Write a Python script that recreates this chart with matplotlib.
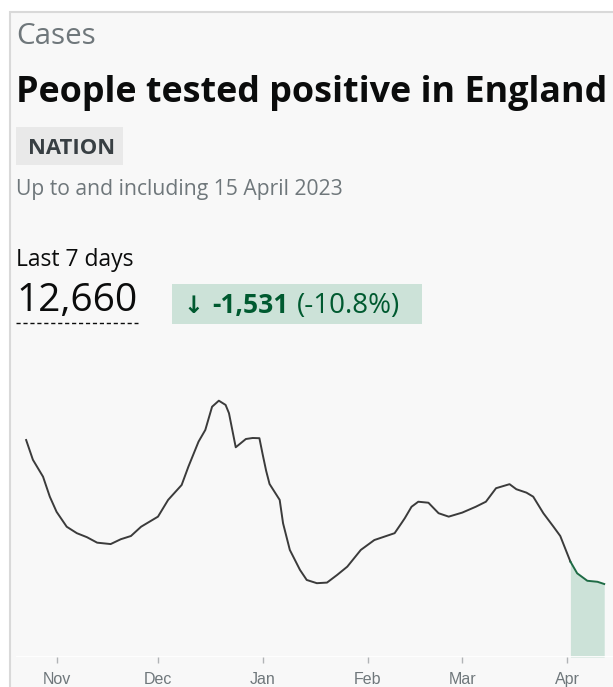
import matplotlib.pyplot as plt
import matplotlib.dates as mdates
import numpy as np
import pandas as pd
from matplotlib.patches import Rectangle
from matplotlib.lines import Line2D

# 7-day average of people testing positive
dates = ["2022-10-23", "2022-10-25", "2022-10-28", "2022-10-30", "2022-11-01",
         "2022-11-04", "2022-11-07", "2022-11-10", "2022-11-13", "2022-11-17",
         "2022-11-20", "2022-11-23", "2022-11-26", "2022-11-29", "2022-12-01",
         "2022-12-04", "2022-12-08", "2022-12-10", "2022-12-13", "2022-12-15",
         "2022-12-17", "2022-12-19", "2022-12-21", "2022-12-22", "2022-12-24",
         "2022-12-27", "2022-12-29", "2022-12-31", "2023-01-01", "2023-01-02",
         "2023-01-03", "2023-01-06", "2023-01-07", "2023-01-09", "2023-01-12",
         "2023-01-14", "2023-01-17", "2023-01-20", "2023-01-23", "2023-01-26",
         "2023-01-30", "2023-02-03", "2023-02-06", "2023-02-09", "2023-02-11",
         "2023-02-12", "2023-02-14", "2023-02-16", "2023-02-19", "2023-02-22",
         "2023-02-25", "2023-03-01", "2023-03-05", "2023-03-08", "2023-03-11",
         "2023-03-15", "2023-03-17", "2023-03-20", "2023-03-22", "2023-03-25",
         "2023-03-28", "2023-03-30", "2023-04-02", "2023-04-04", "2023-04-07",
         "2023-04-10", "2023-04-12"]
cases = [5380, 4890, 4470, 3975, 3600,
         3230, 3070, 2970, 2835, 2800,
         2920, 3000, 3230, 3380, 3480,
         3895, 4265, 4720, 5340, 5630,
         6205, 6355, 6250, 6045, 5200,
         5405, 5430, 5425, 5010, 4615,
         4290, 3895, 3315, 2655, 2160,
         1910, 1830, 1845, 2035, 2240,
         2655, 2900, 2985, 3070, 3315,
         3440, 3725, 3850, 3825, 3565,
         3480, 3580, 3725, 3850, 4185,
         4285, 4160, 4075, 3975, 3565,
         3230, 3000, 2365, 2075, 1890,
         1865, 1810]
recent_from = "2023-04-02"

month_ticks = ["2022-11-01", "2022-12-01", "2023-01-01", "2023-02-01", "2023-03-01", "2023-04-01"]
month_labels = ["Nov", "Dec", "Jan", "Feb", "Mar", "Apr"]

W, H = 613, 687
def fx(x):
    return x / W
def fy(y):
    return 1 - y / H

fig = plt.figure(figsize=(W / 100, H / 100), dpi=100, facecolor="white")
fig.patches.append(Rectangle((fx(10), -0.1), 1.2, fy(11.5) + 0.1, transform=fig.transFigure,
                             facecolor="#f8f8f8", edgecolor="#d9d9d9", lw=1.5, zorder=-5))

font = ["Open Sans", "DejaVu Sans"]
fig.text(fx(16), fy(43.5), "Cases", fontsize=21.3, color="#6f777b", family=font)
fig.text(fx(16), fy(102), "People tested positive in England", fontsize=25.8,
         fontweight="bold", color="#0b0c0c", family=font)
fig.patches.append(Rectangle((fx(16), fy(165)), (123 - 16) / W, 38.5 / H, transform=fig.transFigure,
                             facecolor="#e9e9e9", edgecolor="none", zorder=-4))
fig.text(fx(27.5), fy(154), "NATION", fontsize=15.8, fontweight="bold", color="#383f43", family=font)
fig.text(fx(16), fy(195), "Up to and including 15 April 2023", fontsize=15.2, color="#6f777b", family=font)
fig.text(fx(16), fy(266.5), "Last 7 days", fontsize=16.5, color="#0b0c0c", family=font)
fig.text(fx(16), fy(311.5), "12,660", fontsize=28, color="#0b0c0c", family=font)
fig.add_artist(Line2D([fx(16), fx(138)], [fy(323), fy(323)], color="#0b0c0c", lw=1,
                      linestyle=(0, (3, 2)), transform=fig.transFigure))
fig.patches.append(Rectangle((fx(171.5), fy(324)), 250 / W, 40.5 / H, transform=fig.transFigure,
                             facecolor="#cce2d8", edgecolor="none", zorder=-4))
fig.text(fx(183), fy(312.5), "\u2193", fontsize=17, fontweight="bold", color="#005a30", family="DejaVu Sans")
fig.text(fx(212), fy(312.5), "-1,531", fontsize=19, fontweight="bold", color="#005a30", family=font)
fig.text(fx(297), fy(312.5), "(-10.8%)", fontsize=20, color="#005a30", family=font)

x = pd.to_datetime(dates)
y = np.array(cases)
recent = x >= pd.Timestamp(recent_from)
older = x <= pd.Timestamp(recent_from)

ax = fig.add_axes([fx(16), fy(657), (W - 16) / W, (657 - 390) / H])
ax.set_facecolor("none")
ax.plot(x[older], y[older], color="#3b3b3b", lw=1.4)
ax.fill_between(x[recent], 0, y[recent], color="#cce2d8", lw=0)
ax.plot(x[recent], y[recent], color="#1e6b45", lw=1.4)
ax.axhline(0, color="white", lw=2)

nov1 = mdates.date2num(pd.Timestamp("2022-11-01"))
ax.set_xlim(nov1 - 12.0, nov1 + 164.6)
ax.set_ylim(0, 6620)
for s in ax.spines.values():
    s.set_visible(False)
ax.set_yticks([])
ax.set_xticks(pd.to_datetime(month_ticks))
ax.set_xticklabels(month_labels, fontsize=11.5, color="#6f777b", family="Liberation Sans")
ax.tick_params(axis="x", length=4, width=1, color="#b1b4b6", pad=7)

fig.savefig("out.png", dpi=100, facecolor="white")
